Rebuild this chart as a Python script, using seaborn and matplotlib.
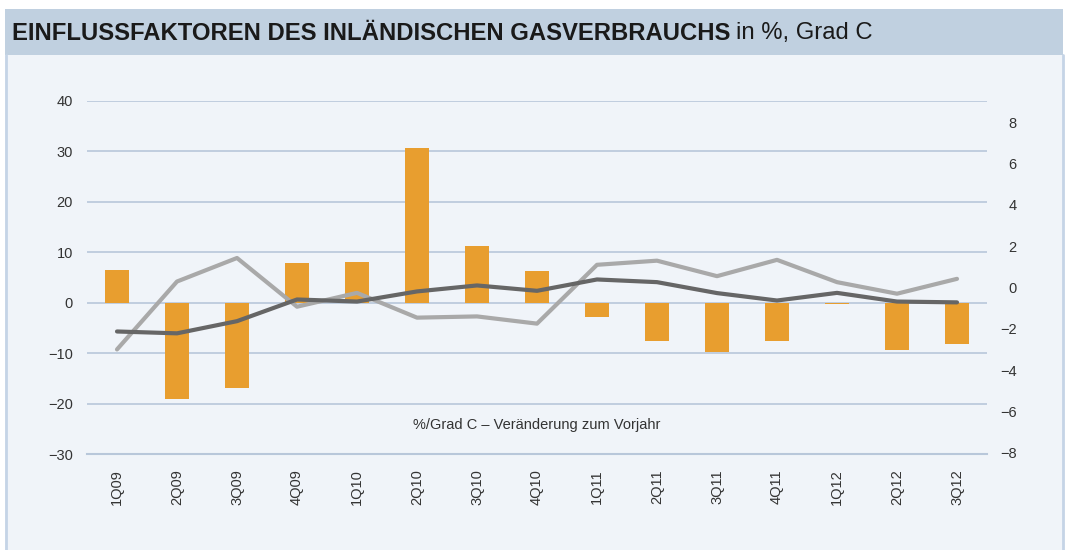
import numpy as np
import pandas as pd
import matplotlib
matplotlib.use("Agg")
import matplotlib.pyplot as plt
import seaborn as sns
from matplotlib.patches import Rectangle
from matplotlib.lines import Line2D

categories = ["1Q09", "2Q09", "3Q09", "4Q09", "1Q10", "2Q10", "3Q10", "4Q10",
              "1Q11", "2Q11", "3Q11", "4Q11", "1Q12", "2Q12", "3Q12"]
bar_values = [6.4, -19.0, -16.9, 7.9, 8.1, 30.6, 11.2, 6.2,
              -2.9, -7.6, -9.7, -7.6, -0.3, -9.3, -8.1]
dark_line = [-2.13, -2.22, -1.63, -0.58, -0.68, -0.19, 0.10, -0.16,
             0.39, 0.26, -0.27, -0.63, -0.26, -0.68, -0.72]
gray_line = [-3.0, 0.29, 1.43, -0.93, -0.26, -1.46, -1.40, -1.75,
             1.10, 1.30, 0.55, 1.34, 0.26, -0.30, 0.42]
left_ticks = [-30, -20, -10, 0, 10, 20, 30, 40]
right_ticks = [-8, -6, -4, -2, 0, 2, 4, 6, 8]

sns.set_theme(style="white")
plt.rcParams["font.family"] = ["Liberation Sans", "DejaVu Sans"]
plt.rcParams["axes.unicode_minus"] = True

W, H = 1069, 550
fig = plt.figure(figsize=(W / 100, H / 100), dpi=100)
fig.patch.set_facecolor("white")

# panel background and title band
fig.add_artist(Rectangle((5 / W, 0), 1058 / W, 1 - 55 / H, transform=fig.transFigure,
                         facecolor="#f0f4f9", edgecolor="none", zorder=0))
fig.add_artist(Rectangle((5 / W, 1 - 55 / H), 1058 / W, 46 / H, transform=fig.transFigure,
                         facecolor="#c0d0e0", edgecolor="none", zorder=0))
for xp in (5.5, 1062.5):
    fig.add_artist(Line2D([xp / W, xp / W], [0, 1 - 55 / H], transform=fig.transFigure,
                          color="#c5d4e6", lw=2, zorder=1))

t1 = fig.text(12 / W, 1 - 33 / H, "EINFLUSSFAKTOREN DES INLÄNDISCHEN GASVERBRAUCHS",
              fontsize=17.2, fontweight="bold", color="#1a1a1a", va="center", ha="left",
              family=["Liberation Sans", "DejaVu Sans"])
fig.canvas.draw()
bb = t1.get_window_extent()
fig.text((bb.x1 + 6) / W, 1 - 33 / H, "in %, Grad C", fontsize=17.2, color="#1a1a1a",
         va="center", ha="left", family=["Liberation Sans", "DejaVu Sans"])

ax = fig.add_axes([87 / W, (H - 454.3) / H, 900 / W, 353.6 / H])
ax.set_facecolor("none")

df = pd.DataFrame({"cat": categories, "val": bar_values})
sns.barplot(data=df, x="cat", y="val", ax=ax, color="#e89e2f", width=0.4,
            saturation=1, edgecolor="none", zorder=3)

ax.set_ylim(-30, 40)
ax.set_yticks(left_ticks)
ax.set_xlim(-0.5, len(categories) - 0.5)
grid_c = "#b8c7da"
for v in left_ticks[1:]:
    ax.axhline(v, color=grid_c, lw=1.2, zorder=1)
for s in ["top", "right", "left"]:
    ax.spines[s].set_visible(False)
ax.spines["bottom"].set_color(grid_c)
ax.spines["bottom"].set_linewidth(1.5)
ax.set_xlabel("")
ax.set_ylabel("")
ax.tick_params(axis="y", length=0, pad=10, labelsize=10.5, labelcolor="#333333")
ax.tick_params(axis="x", which="major", length=0, pad=11, labelsize=10.5,
               labelcolor="#333333", rotation=90)
ax.set_xticks(np.arange(-0.5, len(categories), 1.0), minor=True)
ax.tick_params(axis="x", which="minor", length=5, width=1.5, color=grid_c, direction="out")

ax2 = ax.twinx()
ax2.set_facecolor("none")
xs = np.arange(len(categories))
ld = pd.DataFrame({"x": np.concatenate([xs, xs]),
                   "y": gray_line + dark_line,
                   "s": ["gray"] * len(xs) + ["dark"] * len(xs)})
sns.lineplot(data=ld, x="x", y="y", hue="s", palette={"gray": "#a9a9a9", "dark": "#666666"},
             lw=3, ax=ax2, legend=False, sort=False)
ax2.set_ylim(-8.08, 9.05)
ax2.set_yticks(right_ticks)
ax2.set_xlim(-0.5, len(categories) - 0.5)
for s in ax2.spines.values():
    s.set_visible(False)
ax2.set_xlabel("")
ax2.set_ylabel("")
ax2.tick_params(axis="y", length=0, pad=21.5, labelsize=10.5, labelcolor="#333333")
for lab in ax2.get_yticklabels():
    lab.set_horizontalalignment("right")
ax2.grid(False)

ax.text(0.5, (425 - 100.7) / -353.6 + 1, "%/Grad C – Veränderung zum Vorjahr",
        transform=ax.transAxes, ha="center", va="center", fontsize=10.5, color="#333333")

fig.savefig("out.png", dpi=100, facecolor="white")
